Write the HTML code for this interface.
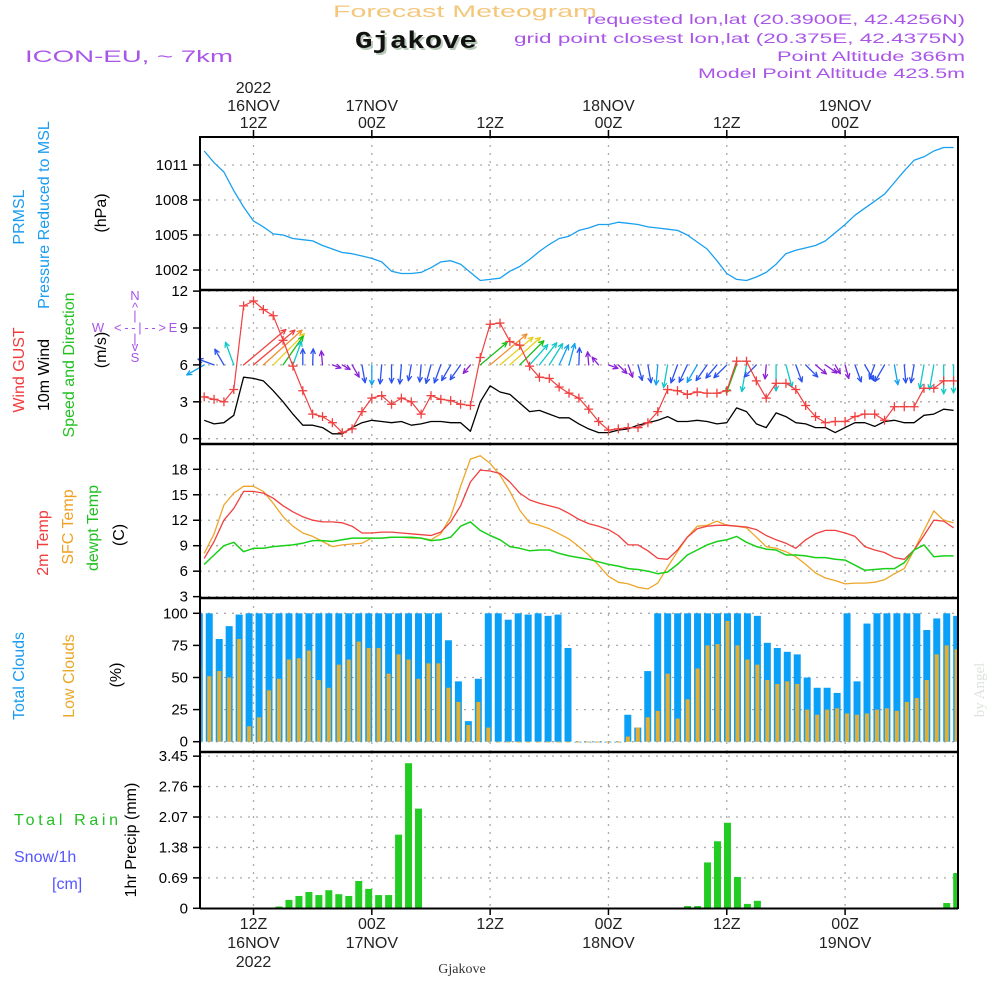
<!DOCTYPE html>
<html><head><meta charset="utf-8"><style>
html,body{margin:0;padding:0;background:#fff;}
svg{display:block;font-family:"Liberation Sans",sans-serif;}
</style></head><body>
<svg id="chart" width="1000" height="1000" viewBox="0 0 1000 1000" xmlns="http://www.w3.org/2000/svg">
<g>
<text x="333" y="17" font-size="17" fill="#f3c77c" textLength="264" lengthAdjust="spacingAndGlyphs">Forecast Meteogram</text>
<text x="357" y="50" font-size="24" font-weight="bold" font-family="Liberation Mono, monospace" fill="#b8c8b8" textLength="122" lengthAdjust="spacingAndGlyphs">Gjakove</text>
<text x="355" y="48" font-size="24" font-weight="bold" font-family="Liberation Mono, monospace" fill="#111" textLength="122" lengthAdjust="spacingAndGlyphs">Gjakove</text>
<text x="25" y="62" font-size="17" fill="#a855e8" textLength="208" lengthAdjust="spacingAndGlyphs">ICON-EU, ~ 7km</text>
<text x="587" y="24" font-size="14" fill="#a855e8" textLength="378" lengthAdjust="spacingAndGlyphs">requested lon,lat (20.3900E, 42.4256N)</text>
<text x="514" y="43" font-size="14" fill="#a855e8" textLength="451" lengthAdjust="spacingAndGlyphs">grid point closest lon,lat (20.375E, 42.4375N)</text>
<text x="777" y="61" font-size="14" fill="#a855e8" textLength="188" lengthAdjust="spacingAndGlyphs">Point Altitude 366m</text>
<text x="698" y="78" font-size="14" fill="#a855e8" textLength="267" lengthAdjust="spacingAndGlyphs">Model Point Altitude 423.5m</text>
</g>
<g font-size="16">
<text transform="translate(24,217) rotate(-90)" text-anchor="middle" fill="#1a9cf0">PRMSL</text>
<text transform="translate(49,215) rotate(-90)" text-anchor="middle" fill="#1a9cf0">Pressure Reduced to MSL</text>
<text transform="translate(106,213) rotate(-90)" text-anchor="middle" fill="#000">(hPa)</text>
<text transform="translate(24,370) rotate(-90)" text-anchor="middle" fill="#f03c3c">Wind GUST</text>
<text transform="translate(49,375) rotate(-90)" text-anchor="middle" fill="#000">10m Wind</text>
<text transform="translate(74,365) rotate(-90)" text-anchor="middle" fill="#22c022">Speed and Direction</text>
<text transform="translate(106,350) rotate(-90)" text-anchor="middle" fill="#000">(m/s)</text>
<text transform="translate(48,543) rotate(-90)" text-anchor="middle" fill="#f03c3c">2m Temp</text>
<text transform="translate(73,527) rotate(-90)" text-anchor="middle" fill="#f0a020">SFC Temp</text>
<text transform="translate(98,528) rotate(-90)" text-anchor="middle" fill="#22c022">dewpt Temp</text>
<text transform="translate(124,535) rotate(-90)" text-anchor="middle" fill="#000">(C)</text>
<text transform="translate(24,676) rotate(-90)" text-anchor="middle" fill="#1a9cf0">Total Clouds</text>
<text transform="translate(74,676) rotate(-90)" text-anchor="middle" fill="#e8a828">Low Clouds</text>
<text transform="translate(121,675) rotate(-90)" text-anchor="middle" fill="#000">(%)</text>
<text transform="translate(136,840) rotate(-90)" text-anchor="middle" fill="#000">1hr Precip (mm)</text>
<text x="14" y="825" fill="#22c022" textLength="104" lengthAdjust="spacing">Total  Rain</text>
<text x="14" y="862" fill="#5555ff">Snow/1h</text>
<text x="52" y="889" fill="#5555ff">[cm]</text>
<text x="462" y="973" font-size="14" font-family="Liberation Serif, serif" text-anchor="middle" fill="#333">Gjakove</text>
<text transform="translate(984,690) rotate(-90)" text-anchor="middle" font-size="15" font-family="Liberation Serif, serif" fill="#dde3dd">by Angel</text>
</g>
<g font-size="13" fill="#a855e8" text-anchor="middle">
<text x="135" y="300">N</text><text x="135" y="312">^</text><text x="135" y="320">|</text>
<text x="98" y="332">W</text><text x="140" y="332" textLength="52" lengthAdjust="spacing">&lt;--|--&gt;</text><text x="173" y="332">E</text>
<text x="135" y="343">|</text><text x="135" y="351">v</text><text x="135" y="362">S</text>
</g>
<g id="plot"></g>
</svg>
<script>
// ---------- DATA (hourly, hours since 00Z 16NOV; first hour = 7) ----------
const startHour = 7;
const pressure = [1012.2,1011.2,1010.4,1008.8,1007.4,1006.2,1005.7,1005.1,1005.0,1004.7,1004.6,1004.5,1004.1,1003.8,1003.5,1003.4,1003.2,1003.0,1002.7,1001.9,1001.7,1001.7,1001.8,1002.2,1002.7,1002.8,1002.5,1001.8,1001.1,1001.2,1001.3,1001.9,1002.3,1002.9,1003.6,1004.2,1004.7,1004.9,1005.4,1005.6,1005.9,1005.9,1006.1,1006.0,1005.9,1005.7,1005.6,1005.5,1005.4,1005.0,1004.4,1003.8,1002.8,1001.7,1001.2,1001.1,1001.4,1001.8,1002.5,1003.4,1003.7,1003.9,1004.1,1004.5,1005.2,1005.9,1006.7,1007.3,1007.9,1008.5,1009.5,1010.5,1011.4,1011.7,1012.2,1012.5,1012.5];
const gust = [3.4,3.2,3.0,4.0,10.8,11.2,10.5,10.0,8.0,5.9,3.9,2.0,1.8,1.3,0.5,0.8,2.2,3.3,3.5,2.8,3.3,3.0,2.0,3.5,3.2,3.1,2.8,2.7,6.6,9.3,9.4,7.9,7.6,5.9,5.0,4.9,4.2,3.7,3.3,2.4,1.4,0.7,0.8,0.9,0.9,1.3,2.2,4.0,3.9,3.6,3.8,3.7,3.7,3.9,6.3,6.3,4.7,3.3,4.5,4.5,4.0,2.7,1.8,1.3,1.4,1.4,1.8,2.0,2.0,1.5,2.6,2.6,2.6,4.1,4.1,4.7,4.7];
const wind = [1.5,1.2,1.3,1.9,5.0,4.9,4.7,3.9,3.0,2.0,1.1,1.1,0.9,0.4,0.4,0.9,1.3,1.5,1.4,1.3,1.4,1.1,1.2,1.4,1.4,1.3,1.3,0.6,3.0,4.3,3.8,3.6,2.9,2.2,2.3,2.0,1.7,1.7,1.2,0.8,0.5,0.5,0.7,0.8,1.1,1.3,1.5,1.8,1.4,1.4,1.5,1.4,1.2,1.3,2.5,2.2,1.2,0.9,2.1,1.8,1.3,1.2,0.9,0.9,0.5,0.9,1.3,1.3,1.0,1.4,1.5,1.3,1.3,1.9,2.0,2.4,2.3];
const windDir = [210,160,120,110,40,40,42,45,55,70,90,88,95,-20,-30,-60,-80,-90,-95,-90,-95,-100,-95,-105,-110,-120,-125,-130,40,40,40,42,45,48,52,58,65,75,88,95,130,-20,-45,-70,-75,-80,-95,-100,-110,-115,-120,-125,-130,-135,-110,-100,-135,-95,-90,-75,-70,-45,-40,-35,-60,-75,-70,-60,-110,-120,-80,-85,-100,-100,-100,-90,-90];
const temp2m = [7.5,9.5,12.0,13.4,15.4,15.4,15.2,14.6,13.7,13.0,12.4,12.0,11.8,11.8,11.7,11.3,10.5,10.5,10.6,10.6,10.5,10.4,10.3,10.2,10.6,11.8,13.7,16.5,17.9,17.8,17.5,16.5,15.2,14.4,14.0,13.7,13.4,12.8,12.1,11.6,11.3,10.9,10.2,9.1,9.1,8.4,7.5,7.4,8.5,10.0,11.0,11.3,11.4,11.4,11.3,11.2,10.9,10.2,9.7,9.3,8.7,9.7,10.4,10.8,10.8,10.5,10.1,8.9,8.5,8.2,7.6,7.4,8.5,10.2,12.0,11.9,11.1];
const sfcTemp = [8.1,10.4,13.8,15.2,16.0,16.0,15.4,14.0,12.4,11.3,10.5,10.1,9.5,8.9,9.1,9.2,9.3,9.9,9.9,10.0,10.0,9.9,9.9,9.7,10.4,12.4,16.0,19.2,19.6,18.7,17.3,15.4,13.2,11.7,11.4,11.0,10.4,9.8,8.9,7.9,6.7,5.4,4.7,4.5,4.1,3.9,4.6,6.5,8.3,10.0,11.3,11.4,11.9,11.4,11.3,11.1,10.0,8.9,8.7,8.3,7.7,6.8,5.8,5.2,4.9,4.5,4.6,4.6,4.7,5.0,5.7,6.3,8.5,10.8,13.1,12.0,11.7];
const dewpt = [6.8,7.9,9.0,9.4,8.3,8.7,8.7,8.9,9.0,9.1,9.3,9.6,9.6,9.5,9.7,9.9,9.9,9.9,9.9,10.0,10.0,10.0,9.9,9.6,9.7,10.0,11.3,11.8,10.8,10.2,9.7,8.9,8.7,8.4,8.5,8.5,8.1,7.8,7.6,7.4,7.1,6.8,6.6,6.3,6.2,6.0,5.7,5.9,6.8,7.9,8.5,9.1,9.5,9.7,10.1,9.4,8.9,8.6,8.5,7.9,7.9,7.8,7.6,7.6,7.4,7.3,6.7,6.1,6.2,6.3,6.3,7.0,8.5,9.1,7.7,7.8,7.8];
// cloud / precip bars: first bar centred at hour 6.5
const barStartHour = 6.5;
const totalClouds = [100,100,80,90,99,100,100,100,100,100,100,100,100,100,100,100,100,100,100,100,100,100,100,100,100,79,47,16,49,100,100,95,100,99,100,98,99,73,0,0,0,0,0,21,11,55,100,100,100,100,100,100,100,100,100,100,98,77,73,70,68,50,42,42,38,100,47,92,100,100,100,100,100,87,96,100,98];
const lowClouds = [58,51,55,50,80,12,19,40,49,64,65,71,48,42,60,64,78,73,73,53,68,64,49,61,61,42,31,13,31,11,0,0,0,0,0,0,0,0,0,0,0,0,0,4,11,19,24,53,18,33,57,75,76,94,75,64,60,48,45,47,45,25,21,25,26,22,21,22,25,26,24,31,34,48,68,75,72];
const precip = [0,0,0,0,0,0,0,0,0.04,0.19,0.28,0.37,0.30,0.41,0.32,0.28,0.62,0.44,0.30,0.30,1.67,3.29,2.26,0,0,0,0,0,0,0,0,0,0,0,0,0,0,0,0,0,0,0,0,0,0,0,0,0,0,0.05,0.05,1.04,1.52,1.94,0.71,0.10,0.17,0,0,0,0,0,0,0,0,0,0,0,0,0,0,0,0,0,0,0.12,0.80];
const pTicks = [1002,1005,1008,1011];
const wTicks = [0,3,6,9,12];
const tTicks = [3,6,9,12,15,18];
const cTicks = [0,25,50,75,100];
const rTicks = ["0","0.69","1.38","2.07","2.76","3.45"];
const timeLabels = [[12,"12Z","16NOV","2022"],[24,"00Z","17NOV",""],[36,"12Z","",""],[48,"00Z","18NOV",""],[60,"12Z","",""],[72,"00Z","19NOV",""]];

// ---------- SCALES ----------
const X0 = 200, X1 = 958;
const x = h => 253.5 + (h - 12) * 9.86;
const barX = i => x(barStartHour) + i * 9.966;
const yP = p => 165 + (1011 - p) * 11.67;
const yW = v => 438.7 - v * 12.3;
const yT = t => 469.3 + (18 - t) * 8.49;
const yC = c => 741.7 - c * 1.284;
const yR = r => 908.3 - r * 44.1;
const panels = [[137,290],[290,444],[444,598],[598,752],[752,908]];

const NS = "http://www.w3.org/2000/svg";
const plot = document.getElementById("plot");
function el(tag, attrs, parent) {
  const e = document.createElementNS(NS, tag);
  for (const k in attrs) e.setAttribute(k, attrs[k]);
  (parent || plot).appendChild(e);
  return e;
}
function line(parent, x1, y1, x2, y2, stroke, w, dash) {
  const l = el("line", {x1, y1, x2, y2, stroke, "stroke-width": w}, parent);
  if (dash) l.setAttribute("stroke-dasharray", dash);
  return l;
}

// gridlines and axes
const grid = el("g", {});


panels.forEach(([t, b]) => {
  timeLabels.forEach(tl => line(grid, x(tl[0]), t, x(tl[0]), b, "#aaa", 1.3, "2 6"));
});
function yAxis(ticks, scale, labels, name) {
  const g = el("g", {});
  
  
  ticks.forEach((v, i) => {
    const y = scale(+v);
    line(g, X0, y, X1, y, "#aaa", 1.3, "2 6");
    line(g, 193, y, X0, y, "#000", 1.5);
    const t = el("text", {x: 188, y: y + 5, "font-size": 15, "text-anchor": "end", fill: "#000"}, g);
    t.textContent = labels ? labels[i] : v;
  });
}
yAxis(pTicks, yP, null, "pressure-y-axis");
yAxis(wTicks, yW, null, "wind-y-axis");
yAxis(tTicks, yT, null, "temp-y-axis");
yAxis(cTicks, yC, null, "cloud-y-axis");
yAxis(rTicks, yR, rTicks, "precip-y-axis");

// time labels
const tg = el("g", {"font-size": 16, fill: "#222", "text-anchor": "middle"});


timeLabels.forEach(tl => {
  const xx = x(tl[0]);
  line(tg, xx, 130, xx, 137, "#000", 1.5);
  line(tg, xx, 908, xx, 915, "#000", 1.5);
  const top = [tl[3], tl[2], tl[1]];
  [93, 111, 128].forEach((yy, k) => { if (top[k]) { const t = el("text", {x: xx, y: yy}, tg); t.textContent = top[k]; } });
  [tl[1], tl[2], tl[3]].forEach((s, k) => { if (s) { const t = el("text", {x: xx, y: 929 + k * 19}, tg); t.textContent = s; } });
});

// clouds
const cg = el("g", {});


totalClouds.forEach((v, i) => {
  const cx = barX(i);
  const left = Math.max(X0, cx - 3.5), right = Math.min(X1, cx + 3.5);
  const b = el("rect", {x: left, y: yC(v), width: right - left, height: Math.max(0.8, yC(0) - yC(v)), fill: "#0aa0f8"}, cg);
  
  
  const lv = lowClouds[i];
  const l2 = Math.max(X0, cx - 2), r2 = Math.min(X1, cx + 2);
  const o = el("rect", {x: l2, y: yC(lv), width: r2 - l2, height: Math.max(0.8, yC(0) - yC(lv)), fill: "#e8ad2c"}, cg);
  
  
});

// precip
const rg = el("g", {});


precip.forEach((v, i) => {
  if (v <= 0) return;
  const cx = barX(i);
  const left = cx - 3.5, right = Math.min(X1, cx + 3.5);
  const b = el("rect", {x: left, y: yR(v), width: right - left, height: yR(0) - yR(v), fill: "#22cc22"}, rg);
  
  
});

function poly(arr, ys, color, w, name) {
  const pts = arr.map((v, i) => x(startHour + i).toFixed(1) + "," + ys(v).toFixed(1)).join(" ");
  const p = el("polyline", {points: pts, fill: "none", stroke: color, "stroke-width": w, "stroke-linejoin": "round"});
  
  
}
poly(pressure, yP, "#1aa0f0", 1.3, "pressure-line");
poly(sfcTemp, yT, "#eea62a", 1.3, "sfc-temp-line");
poly(temp2m, yT, "#f04040", 1.3, "temp-2m-line");
poly(dewpt, yT, "#18d018", 1.5, "dewpoint-line");

// wind arrows
function arrowColor(s) {
  if (s >= 4.8) return "#f04040";
  if (s >= 4.0) return "#f09030";
  if (s >= 3.3) return "#e8d020";
  if (s >= 2.5) return "#18c018";
  if (s >= 1.8) return "#10c8c8";
  if (s >= 1.45) return "#10a0f0";
  if (s >= 0.95) return "#2a50f0";
  return "#8a20d8";
}
const ag = el("g", {"stroke-linecap": "round"});


windDir.forEach((d, i) => {
  const s = wind[i];
  const len = 5 + 10 * s;
  const a = d * Math.PI / 180;
  const bx = x(startHour + i), by = yW(6);
  const tx = bx + len * Math.cos(a), ty = by - len * Math.sin(a);
  const c = arrowColor(s);
  const g = el("g", {stroke: c, "stroke-width": 1.3, fill: "none"}, ag);
  
  
  line(g, bx, by, tx, ty, c, 1.3);
  const hl = 5;
  [a + Math.PI - 0.45, a + Math.PI + 0.45].forEach(b2 => line(g, tx, ty, tx + hl * Math.cos(b2), ty - hl * Math.sin(b2), c, 1.3));
});

poly(wind, yW, "#000", 1.3, "wind-speed-line");
poly(gust, yW, "#f04040", 1.2, "gust-line");
const mg = el("g", {stroke: "#f04040", "stroke-width": 1.3});


gust.forEach((v, i) => {
  const cx = x(startHour + i), cy = yW(v);
  line(mg, cx - 4.5, cy, cx + 4.5, cy, "#f04040", 1.3);
  line(mg, cx, cy - 4.5, cx, cy + 4.5, "#f04040", 1.3);
});

// frames
const fg = el("g", {});


line(fg, X0, 136, X0, 909, "#000", 2);
line(fg, X1, 136, X1, 909, "#000", 2);
line(fg, X0, 137, X1, 137, "#000", 2);
[290, 444, 598, 752].forEach(y => line(fg, X0 - 1, y, X1 + 1, y, "#000", 2.5));
line(fg, X0, 908.5, X1, 908.5, "#000", 2);
</script>
</body></html>
